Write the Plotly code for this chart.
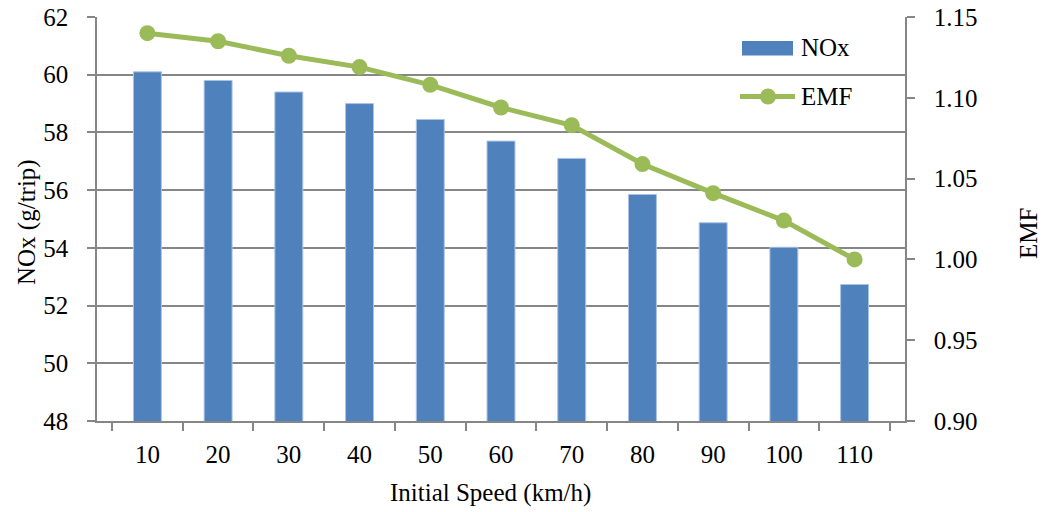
import plotly.graph_objects as go

speeds = ["10", "20", "30", "40", "50", "60", "70", "80", "90", "100", "110"]
nox = [60.1, 59.8, 59.4, 59.0, 58.45, 57.7, 57.1, 55.85, 54.87, 54.02, 52.73]
emf = [1.140, 1.135, 1.126, 1.119, 1.108, 1.094, 1.083, 1.059, 1.041, 1.024, 1.000]

W, H = 1047, 512
L, R, T, B = 97, 142, 17, 91
PW, PH = W - L - R, H - T - B

bar_col = "#4f81bd"
line_col = "#9bbb59"
axis_col = "#868686"
font = dict(family="Liberation Serif, Times New Roman, serif", size=25, color="#000000")


def px(x):
    return (x - L) / PW


def py(y):
    return (H - B - y) / PH


fig = go.Figure()
fig.add_trace(go.Bar(
    x=speeds, y=nox, name="NOx",
    marker=dict(color=bar_col, line=dict(color="#a9c3e6", width=1)),
    yaxis="y", showlegend=False,
))
fig.add_trace(go.Scatter(
    x=speeds, y=emf, name="EMF", mode="lines+markers",
    line=dict(color=line_col, width=5),
    marker=dict(color=line_col, size=16),
    yaxis="y2", showlegend=False,
))

# legend drawn as shapes + text in the upper right of the plot area
shapes = [
    dict(type="rect", xref="paper", yref="paper",
         x0=px(742), x1=px(793), y0=py(55.5), y1=py(41),
         fillcolor=bar_col, line=dict(width=0)),
    dict(type="line", xref="paper", yref="paper",
         x0=px(740), x1=px(795), y0=py(96.5), y1=py(96.5),
         line=dict(color=line_col, width=5)),
    dict(type="circle", xref="paper", yref="paper",
         x0=px(760), x1=px(776), y0=py(104.5), y1=py(88.5),
         fillcolor=line_col, line=dict(width=0)),
]
annotations = [
    dict(text="NOx", xref="paper", yref="paper", x=px(799), y=py(48),
         xanchor="left", yanchor="middle", showarrow=False, font=font),
    dict(text="EMF", xref="paper", yref="paper", x=px(799), y=py(96.5),
         xanchor="left", yanchor="middle", showarrow=False, font=font),
    dict(text="Initial Speed (km/h)", xref="paper", yref="paper",
         x=px(490), y=py(493), xanchor="center", yanchor="middle",
         showarrow=False, font=font),
    dict(text="NOx (g/trip)", xref="paper", yref="paper",
         x=px(27), y=py(222), xanchor="center", yanchor="middle",
         textangle=-90, showarrow=False, font=font),
    dict(text="EMF", xref="paper", yref="paper",
         x=px(1028), y=py(234), xanchor="center", yanchor="middle",
         textangle=-90, showarrow=False, font=font),
]

fig.update_layout(
    width=W, height=H,
    margin=dict(l=L, r=R, t=T, b=B),
    paper_bgcolor="white", plot_bgcolor="white",
    font=font,
    bargap=0.605,
    showlegend=False,
    shapes=shapes,
    annotations=annotations,
    xaxis=dict(
        type="category", automargin=False,
        showline=True, linecolor=axis_col, linewidth=1.5,
        ticks="outside", tickson="boundaries", ticklen=8, tickcolor=axis_col,
        tickwidth=1.5, ticklabelstandoff=10,
        tickfont=font, showgrid=False,
    ),
    yaxis=dict(
        range=[48, 62], dtick=2, tick0=48, automargin=False,
        showline=True, linecolor=axis_col, linewidth=1.5,
        ticks="outside", ticklen=8, tickcolor=axis_col, tickwidth=1.5,
        ticklabelstandoff=14,
        showgrid=True, gridcolor=axis_col, gridwidth=1.5,
        zeroline=False, tickfont=font,
    ),
    yaxis2=dict(
        overlaying="y", side="right", automargin=False,
        range=[0.90, 1.15], dtick=0.05, tick0=0.90, tickformat=".2f",
        showline=True, linecolor=axis_col, linewidth=1.5,
        ticks="outside", ticklen=8, tickcolor=axis_col, tickwidth=1.5,
        ticklabelstandoff=14,
        showgrid=False, zeroline=False, tickfont=font,
    ),
)

fig.write_html("out.html")
